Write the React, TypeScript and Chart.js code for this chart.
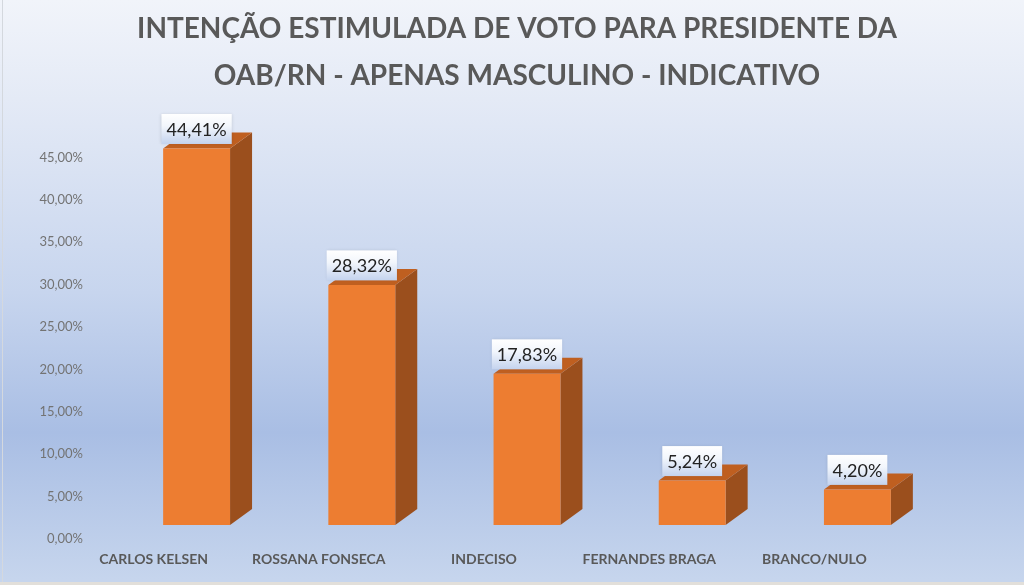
import { useEffect, useRef } from "react";
import { Chart, registerables } from "chart.js";
import type { ChartConfiguration, Plugin } from "chart.js";

Chart.register(...registerables);

const categories = [
  "CARLOS KELSEN",
  "ROSSANA FONSECA",
  "INDECISO",
  "FERNANDES BRAGA",
  "BRANCO/NULO",
];
const votes = [44.41, 28.32, 17.83, 5.24, 4.2];
const yTickStep = 5;
const yMax = 50; // top tick left blank, labels stop at 45,00%

const titleLines = [
  "INTENÇÃO ESTIMULADA DE VOTO PARA PRESIDENTE DA",
  "OAB/RN - APENAS MASCULINO - INDICATIVO",
];

const FRONT = "#ED7D31";
const SIDE = "#9B4F1D";
const TOP = "#BF5F20";
const DEPTH_X = 22;
const DEPTH_Y = 16;

const fmt = (v: number) => v.toFixed(2).replace(".", ",") + "%";

// side + top faces behind the front face, then the value boxes
const bar3d: Plugin<"bar"> = {
  id: "bar3d",
  beforeDatasetsDraw(chart) {
    const ctx = chart.ctx;
    const meta = chart.getDatasetMeta(0);
    ctx.save();
    meta.data.forEach((el: any) => {
      const { x, y, width, base } = el.getProps(["x", "y", "width", "base"], true);
      const l = x - width / 2;
      const r = x + width / 2;
      ctx.fillStyle = SIDE;
      ctx.beginPath();
      ctx.moveTo(r, y);
      ctx.lineTo(r + DEPTH_X, y - DEPTH_Y);
      ctx.lineTo(r + DEPTH_X, base - DEPTH_Y);
      ctx.lineTo(r, base);
      ctx.closePath();
      ctx.fill();
      ctx.fillStyle = TOP;
      ctx.beginPath();
      ctx.moveTo(l, y);
      ctx.lineTo(l + DEPTH_X, y - DEPTH_Y);
      ctx.lineTo(r + DEPTH_X, y - DEPTH_Y);
      ctx.lineTo(r, y);
      ctx.closePath();
      ctx.fill();
    });
    ctx.restore();
  },
  afterDatasetsDraw(chart) {
    const ctx = chart.ctx;
    const meta = chart.getDatasetMeta(0);
    ctx.save();
    ctx.font = "18px Lato";
    meta.data.forEach((el: any, i: number) => {
      const { x, y } = el.getProps(["x", "y"], true);
      const text = fmt(votes[i]);
      const w = ctx.measureText(text).width + 10;
      const h = 30;
      const bx = x - w / 2;
      const by = y - 4.5 - h;
      const g = ctx.createLinearGradient(0, by, 0, by + h);
      g.addColorStop(0, "#FFFFFF");
      g.addColorStop(0.4, "#F2F6FC");
      g.addColorStop(1, "#C4D3EE");
      ctx.shadowColor = "rgba(0,0,0,0.12)";
      ctx.shadowBlur = 3;
      ctx.fillStyle = g;
      ctx.fillRect(bx, by, w, h);
      ctx.shadowBlur = 0;
      ctx.shadowColor = "transparent";
      ctx.fillStyle = "#222222";
      ctx.textAlign = "center";
      ctx.textBaseline = "middle";
      ctx.fillText(text, x, by + h / 2 + 1);
    });
    ctx.restore();
  },
};

export default function App() {
  const canvasRef = useRef<HTMLCanvasElement>(null);
  const chartRef = useRef<Chart | null>(null);

  useEffect(() => {
    if (!canvasRef.current) return;
    Chart.defaults.font.family = "Lato";

    const config: ChartConfiguration<"bar"> = {
      type: "bar",
      data: {
        labels: categories,
        datasets: [
          {
            label: "Votos",
            data: votes,
            backgroundColor: FRONT,
            borderWidth: 0,
            categoryPercentage: 1,
            barPercentage: 0.405,
            xAxisID: "x",
            yAxisID: "yBar",
            clip: false as any,
          },
        ],
      },
      options: {
        responsive: true,
        maintainAspectRatio: false,
        animation: false,
        layout: { padding: { left: 10, right: 0, top: 0, bottom: 0 } },
        plugins: {
          legend: { display: false },
          tooltip: { enabled: false },
          title: {
            display: true,
            text: titleLines,
            color: "#595959",
            font: { size: 28, weight: "bold", lineHeight: 1.68 },
            padding: { top: 5, bottom: 16 },
          },
        },
        scales: {
          x: {
            grid: { display: false, drawTicks: false },
            border: { display: false },
            ticks: {
              color: "#595959",
              font: { size: 14, weight: "bold" },
              padding: 12,
              labelOffset: -43,
              maxRotation: 0,
              autoSkip: false,
            },
            afterFit: (scale: any) => {
              scale.height = 46;
            },
          },
          y: {
            min: 0,
            max: yMax,
            grid: { display: false, drawTicks: false },
            border: { display: false },
            ticks: {
              stepSize: yTickStep,
              color: "#737373",
              font: { size: 13 },
              padding: 31,
              callback: (v: any) => (Number(v) >= yMax ? "" : fmt(Number(v))),
            },
            afterFit: (scale: any) => {
              scale.width = 104;
            },
          },
          yBar: {
            display: false,
            min: -1.65,
            max: yMax - 1.65,
          },
          yRight: {
            position: "right",
            display: true,
            grid: { display: false, drawTicks: false },
            border: { display: false },
            ticks: { display: false },
            afterFit: (scale: any) => {
              scale.width = 84;
            },
          },
        },
      },
      plugins: [bar3d],
    };

    chartRef.current = new Chart(canvasRef.current, config);
    return () => {
      chartRef.current?.destroy();
      chartRef.current = null;
    };
  }, []);

  return (
    <div
      style={{
        position: "fixed",
        left: 0,
        top: 0,
        width: 1024,
        height: 585,
        background:
          "linear-gradient(to bottom, #F1F4FA 0%, #E4EAF6 17%, #C7D5EE 50%, #A9BEE4 74%, #C6D5ED 99%)",
      }}
    >
      <div
        style={{
          position: "absolute",
          left: 2,
          top: 0,
          width: 1,
          height: 584,
          background: "#D4D8DE",
        }}
      />
      <div
        style={{
          position: "absolute",
          left: 0,
          top: 582,
          width: 1024,
          height: 3,
          background: "#E2DFDA",
        }}
      />
      <div style={{ position: "absolute", left: 0, top: 0, width: 1024, height: 585 }}>
        <canvas ref={canvasRef}></canvas>
      </div>
    </div>
  );
}
